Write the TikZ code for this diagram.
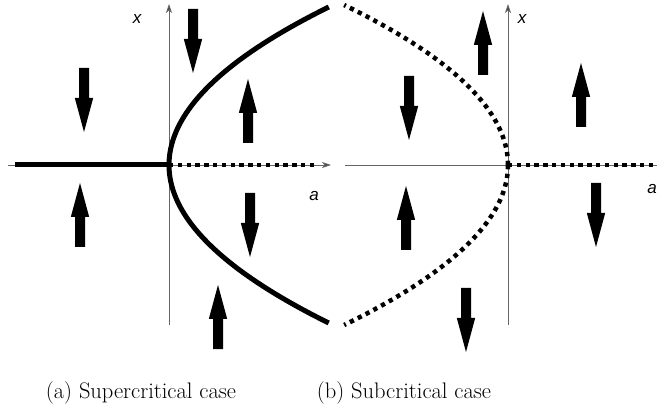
\documentclass[tikz,border=0pt]{standalone}
\usepackage{fontspec}
\newfontfamily\labfont{Liberation Sans}
\usetikzlibrary{arrows.meta}
\tikzset{
  axis/.style={draw=black!60, line width=0.9pt, -{Stealth[length=9pt,width=6pt,inset=2.5pt,fill=black!80]}},
  plainaxis/.style={draw=black!60, line width=0.9pt},
  stable/.style={line width=5pt},
  unstable/.style={line width=4.5pt, dash pattern=on 4.3pt off 4.5pt},
  axlabel/.style={font=\labfont\itshape\fontsize{17}{20}\selectfont, inner sep=0pt},
  caption/.style={font=\fontsize{22.5}{26}\selectfont, inner sep=0pt, anchor=base},
  blockdown/.pic={\fill (-5,0) -- (5,0) -- (5,30) -- (9.2,30) -- (0,64) -- (-9.2,30) -- (-5,30) -- cycle;}
}
\begin{document}
\begin{tikzpicture}[x=1pt,y=-1pt]
\useasboundingbox (0,0) rectangle (657,409);
% ---------- (a) supercritical ----------
\coordinate (aL) at (8,165);
\coordinate (aR) at (331,165);
\coordinate (aB) at (169,325);
\coordinate (aT) at (169,4);
\coordinate (aO) at (169,165);
\coordinate (aS) at (15,165);
\coordinate (aD) at (314,165);
\draw[axis] (aL) -- (aR);
\draw[axis] (aB) -- (aT);
\draw[stable] (aS) -- (aO);
\draw[unstable] (aO) -- (aD);
\draw[stable] plot[domain=-15.8:15.8, samples=90, smooth] ({169+0.64*\x*\x},{165+10*\x});
\node[axlabel] (ax) at (137,19) {x};
\node[axlabel] (aa) at (314,196) {a};
\pic at (193,9) {blockdown};
\pic at (84,68) {blockdown};
\pic[rotate=180] at (248,143) {blockdown};
\pic[rotate=180] at (80,247) {blockdown};
\pic at (250,193) {blockdown};
\pic[rotate=180] at (218,349) {blockdown};
\node[caption] (capa) at (141,398) {(a) Supercritical case};
% ---------- (b) subcritical ----------
\coordinate (bL) at (345,165);
\coordinate (bR) at (657,165);
\coordinate (bB) at (508,325);
\coordinate (bT) at (508,4);
\coordinate (bO) at (508,165);
\draw[plainaxis] (bL) -- (bR);
\draw[axis] (bB) -- (bT);
\draw[unstable] (bO) -- (bR);
\draw[unstable] plot[domain=0:16, samples=60, smooth] ({508-0.64*\x*\x},{165-10*\x});
\draw[unstable] plot[domain=0:16, samples=60, smooth] ({508-0.64*\x*\x},{165+10*\x});
\node[axlabel] (bx) at (522,19) {x};
\node[axlabel] (ba) at (652,189) {a};
\pic[rotate=180] at (483,75) {blockdown};
\pic at (409,76) {blockdown};
\pic[rotate=180] at (581,127) {blockdown};
\pic[rotate=180] at (406,250) {blockdown};
\pic at (596,183) {blockdown};
\pic at (466,288) {blockdown};
\node[caption] (capb) at (404,398) {(b) Subcritical case};
\end{tikzpicture}
\end{document}
